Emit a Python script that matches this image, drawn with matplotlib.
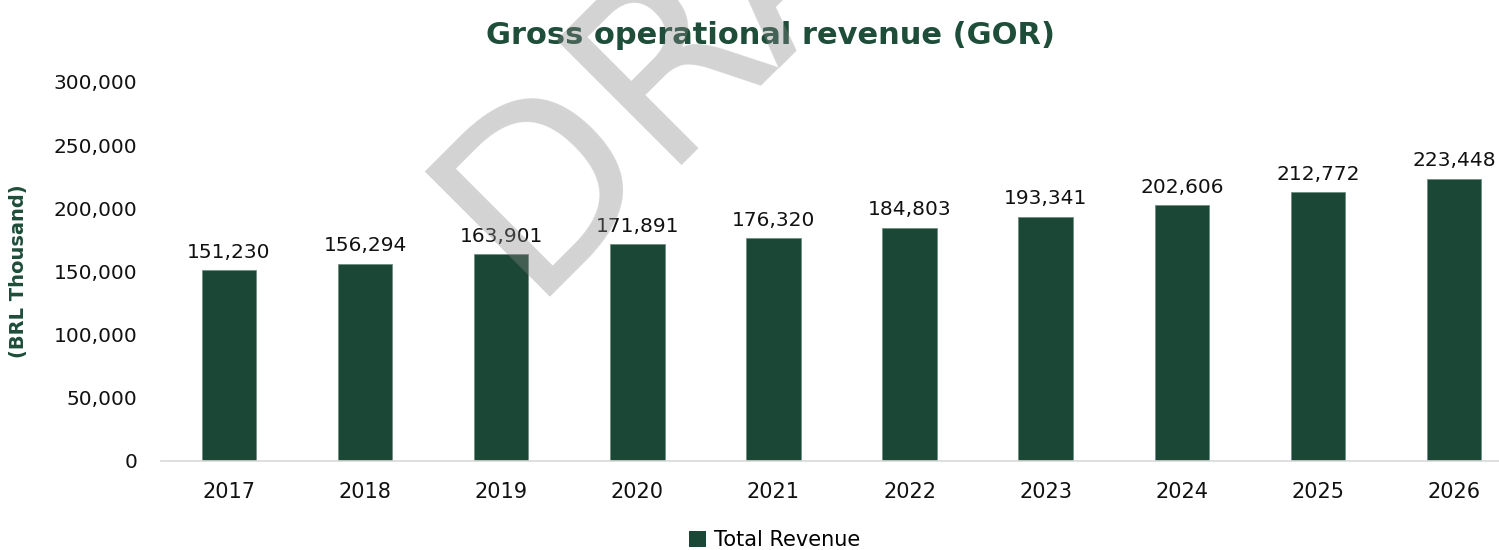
import matplotlib
matplotlib.use("Agg")
import matplotlib.pyplot as plt
from matplotlib.patches import Patch

years = ["2017", "2018", "2019", "2020", "2021", "2022", "2023", "2024", "2025", "2026"]
revenue = [151230, 156294, 163901, 171891, 176320, 184803, 193341, 202606, 212772, 223448]
yticks = [0, 50000, 100000, 150000, 200000, 250000, 300000]

BAR = "#1b4736"
GREEN_TXT = "#1e4d3a"

plt.rcParams['font.family'] = ['DejaVu Sans']

W, H = 1499, 550
fig = plt.figure(figsize=(W / 100, H / 100), dpi=100)
left, right = 161 / W, 1522 / W
bottom, top = (H - 461) / H, (H - 82) / H
ax = fig.add_axes([left, bottom, right - left, top - bottom])

x = list(range(len(years)))
ax.bar(x, revenue, width=0.40, color=BAR, edgecolor="#6f8f80", linewidth=0.6, zorder=2)
ax.set_xlim(-0.5, len(years) - 0.5)
ax.set_ylim(0, 300000)
ax.set_yticks(yticks)
ax.set_yticklabels([f"{v:,}" for v in yticks])
ax.set_xticks(x)
ax.set_xticklabels(years)
ax.tick_params(axis='both', length=0, labelsize=14.5, colors="#111111")
ax.tick_params(axis='x', labelsize=15, pad=15)
ax.tick_params(axis='y', pad=17)
for s in ["top", "right", "left"]:
    ax.spines[s].set_visible(False)
ax.spines["bottom"].set_color("#d9d9d9")
ax.spines["bottom"].set_linewidth(1.2)

for xi, v in zip(x, revenue):
    ax.annotate(f"{v:,}", (xi, v), xytext=(0, 6), textcoords="offset points",
                ha="center", va="bottom", fontsize=14.5, color="#111111")

ax.set_ylabel("(BRL Thousand)", fontsize=14, fontweight="bold", color=GREEN_TXT)
ax.yaxis.set_label_coords((28 - 161) / 1361, 0.5)

fig.text(770 / W, 1 - 36 / H, "Gross operational revenue (GOR)", ha="center", va="center",
         fontsize=22, fontweight="bold", color=GREEN_TXT)

fig.legend(handles=[Patch(facecolor=BAR, label="Total Revenue")], loc="center",
           bbox_to_anchor=(775 / W, 1 - 540 / H), frameon=False, fontsize=15,
           handlelength=0.8, handleheight=0.8, handletextpad=0.4)

fig.text(526 / W, 1 - 297 / H, "DRAFT", rotation=45, rotation_mode="anchor",
         ha="left", va="baseline", fontsize=175, color="#888888", alpha=0.37, zorder=10)

fig.savefig("out.png", dpi=100)
